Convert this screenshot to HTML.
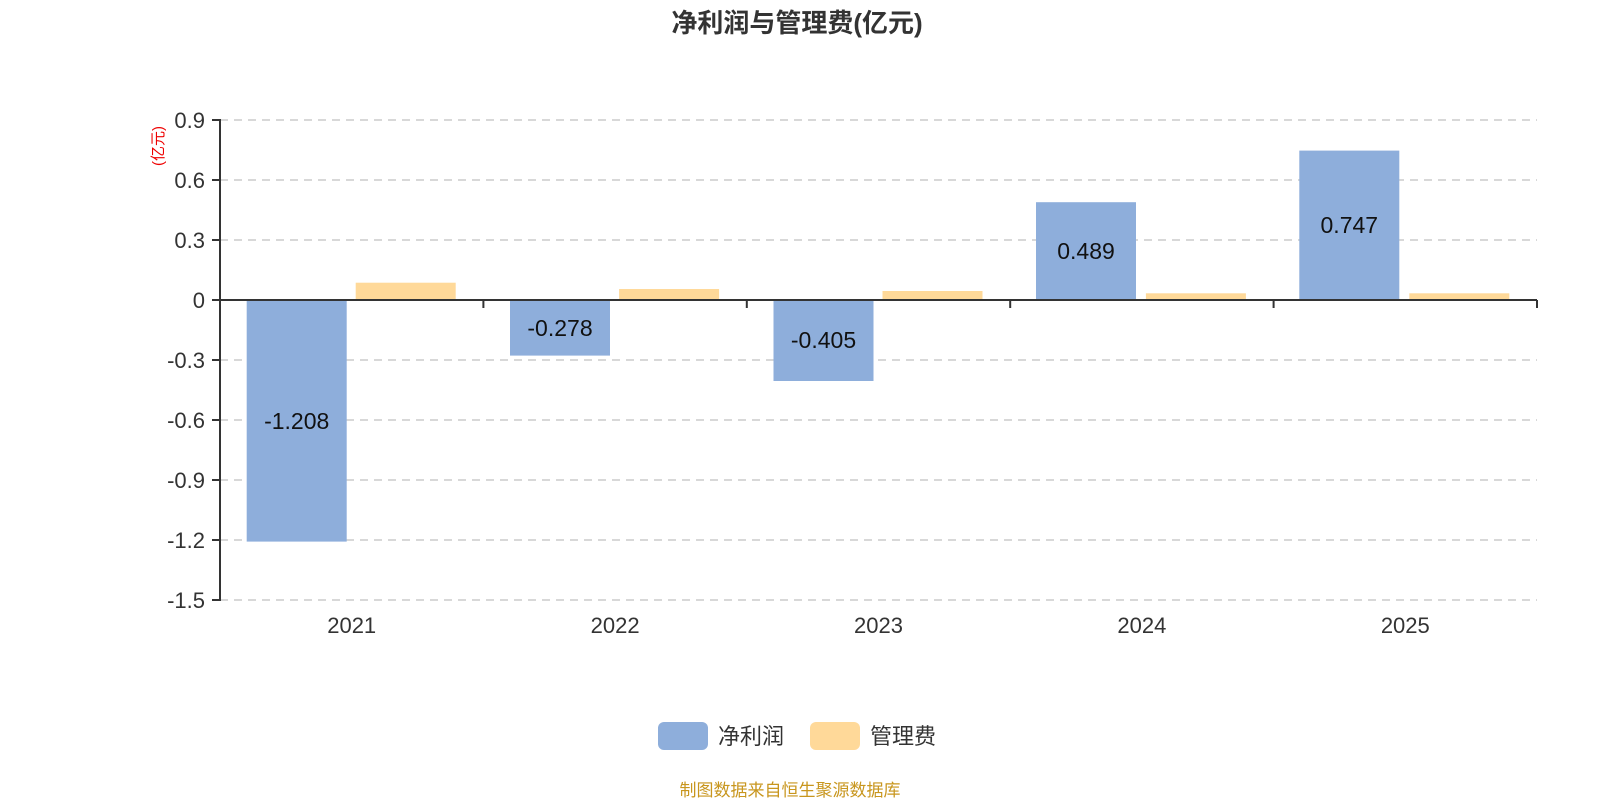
<!DOCTYPE html>
<html><head><meta charset="utf-8"><style>
html,body{margin:0;padding:0;background:#fff;}
svg{display:block;}
text{font-family:"Liberation Sans","Noto Sans CJK SC",sans-serif;}
</style></head><body>
<svg width="1600" height="800" viewBox="0 0 1600 800" xmlns="http://www.w3.org/2000/svg">
<text x="797" y="32" text-anchor="middle" font-size="26" font-weight="bold" fill="#333">净利润与管理费(亿元)</text>
<g stroke="#ccc" stroke-width="1.5" stroke-dasharray="8,6">
<line x1="220" y1="120" x2="1537" y2="120"/>
<line x1="220" y1="180" x2="1537" y2="180"/>
<line x1="220" y1="240" x2="1537" y2="240"/>
<line x1="220" y1="360" x2="1537" y2="360"/>
<line x1="220" y1="420" x2="1537" y2="420"/>
<line x1="220" y1="480" x2="1537" y2="480"/>
<line x1="220" y1="540" x2="1537" y2="540"/>
<line x1="220" y1="600" x2="1537" y2="600"/>
</g>
<g fill="#8eaedb">
<rect x="246.7" y="300" width="100" height="241.6"/>
<rect x="510" y="300" width="100" height="55.6"/>
<rect x="773.5" y="300" width="100" height="81"/>
<rect x="1036" y="202.2" width="100" height="97.8"/>
<rect x="1299.3" y="150.6" width="100" height="149.4"/>
</g>
<g fill="#ffd999">
<rect x="355.7" y="282.7" width="100" height="17.3"/>
<rect x="619.1" y="289" width="100" height="11"/>
<rect x="882.5" y="291" width="100" height="9"/>
<rect x="1145.9" y="293.3" width="100" height="6.7"/>
<rect x="1409.3" y="293.3" width="100" height="6.7"/>
</g>
<g font-size="23" fill="#111" text-anchor="middle">
<text x="296.7" y="429">-1.208</text>
<text x="560" y="336">-0.278</text>
<text x="823.5" y="348">-0.405</text>
<text x="1086" y="259">0.489</text>
<text x="1349.3" y="233">0.747</text>
</g>
<g stroke="#333" stroke-width="2" fill="none">
<line x1="220" y1="119" x2="220" y2="601"/>
<line x1="212" y1="120" x2="220" y2="120"/>
<line x1="212" y1="180" x2="220" y2="180"/>
<line x1="212" y1="240" x2="220" y2="240"/>
<line x1="212" y1="300" x2="220" y2="300"/>
<line x1="212" y1="360" x2="220" y2="360"/>
<line x1="212" y1="420" x2="220" y2="420"/>
<line x1="212" y1="480" x2="220" y2="480"/>
<line x1="212" y1="540" x2="220" y2="540"/>
<line x1="212" y1="600" x2="220" y2="600"/>
<line x1="220" y1="300" x2="1537" y2="300"/>
<line x1="483.4" y1="300" x2="483.4" y2="308"/>
<line x1="746.8" y1="300" x2="746.8" y2="308"/>
<line x1="1010.2" y1="300" x2="1010.2" y2="308"/>
<line x1="1273.6" y1="300" x2="1273.6" y2="308"/>
<line x1="1537" y1="300" x2="1537" y2="308"/>
</g>
<g font-size="22" fill="#333" text-anchor="end">
<text x="205" y="128">0.9</text>
<text x="205" y="188">0.6</text>
<text x="205" y="248">0.3</text>
<text x="205" y="308">0</text>
<text x="205" y="368">-0.3</text>
<text x="205" y="428">-0.6</text>
<text x="205" y="488">-0.9</text>
<text x="205" y="548">-1.2</text>
<text x="205" y="608">-1.5</text>
</g>
<g font-size="22" fill="#333" text-anchor="middle">
<text x="351.7" y="633">2021</text>
<text x="615.1" y="633">2022</text>
<text x="878.5" y="633">2023</text>
<text x="1141.9" y="633">2024</text>
<text x="1405.3" y="633">2025</text>
</g>
<text transform="translate(163,146) rotate(-90)" text-anchor="middle" font-size="15" fill="#e00">(亿元)</text>
<rect x="658" y="722" width="50" height="28" rx="6" fill="#8eaedb"/>
<text x="718" y="744" font-size="22" fill="#333">净利润</text>
<rect x="810" y="722" width="50" height="28" rx="6" fill="#ffd999"/>
<text x="870" y="744" font-size="22" fill="#333">管理费</text>
<text x="790" y="796" text-anchor="middle" font-size="17" fill="#c8961e">制图数据来自恒生聚源数据库</text>
</svg>
</body></html>
